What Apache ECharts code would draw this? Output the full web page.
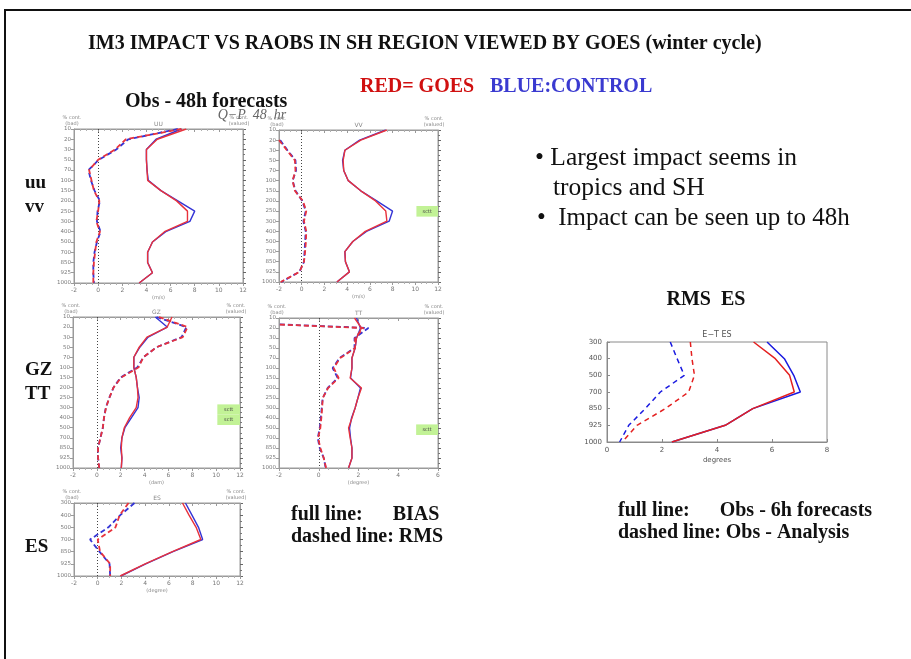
<!DOCTYPE html>
<html>
<head>
<meta charset="utf-8">
<script src="https://cdn.jsdelivr.net/npm/echarts@6/dist/echarts.min.js"></script>
<style>
html,body{margin:0;padding:0;background:#fff;}
#main{width:911px;height:659px;}
</style>
</head>
<body>
<div id="main"></div>
<script>
// ---------- tick labels / categories ----------
const levels = [10, 20, 30, 50, 70, 100, 150, 200, 250, 300, 400, 500, 700, 850, 925, 1000];
const esLevels = [300, 400, 500, 700, 850, 925, 1000];

// ---------- UU (Obs - 48h forecasts) ----------
const uuGoesSolid = [7.3, 4.9, 4.0, 4.0, 4.05, 4.1, 5.2, 6.5, 7.4, 7.4, 5.5, 4.5, 4.1, 4.1, 4.5, 3.4];
const uuCtrlSolid = [6.9, 4.8, 4.0, 4.0, 4.05, 4.15, 5.2, 6.6, 8.0, 7.6, 5.6, 4.5, 4.1, 4.1, 4.5, 3.4];
const uuGoesDash = [6.9, 2.3, 1.4, 0.0, -0.75, -0.55, -0.35, 0.1, 0.0, -0.15, 0.15, -0.15, -0.25, -0.35, -0.4, -0.4];
const uuCtrlDash = [6.6, 2.5, 1.5, 0.05, -0.8, -0.6, -0.3, 0.15, -0.05, -0.1, 0.2, -0.1, -0.3, -0.4, -0.4, -0.35];

// ---------- VV ----------
const vvGoesSolid = [7.5, 5.2, 3.8, 3.65, 3.7, 4.1, 5.2, 6.5, 7.4, 7.5, 5.6, 4.5, 3.8, 3.85, 4.2, 3.1];
const vvCtrlSolid = [7.4, 5.1, 3.8, 3.6, 3.7, 4.1, 5.2, 6.6, 8.0, 7.7, 5.7, 4.5, 3.8, 3.85, 4.2, 3.1];
const vvGoesDash = [null, -2.0, -1.3, -0.6, -0.55, -0.8, -0.6, 0.1, 0.4, 0.2, 0.4, 0.37, 0.3, 0.2, -0.2, -1.85];
const vvCtrlDash = [null, -1.9, -1.25, -0.55, -0.5, -0.8, -0.55, 0.05, 0.35, 0.15, 0.35, 0.3, 0.25, 0.2, -0.2, -1.8];

// ---------- GZ ----------
const gzGoesSolid = [6.3, 5.9, 4.2, 3.55, 3.1, 3.1, 3.3, 3.4, 3.45, 3.3, 2.75, 2.3, 2.1, 2.05, 2.1, 2.05];
const gzCtrlSolid = [4.9, 5.9, 4.3, 3.6, 3.1, 3.1, 3.3, 3.4, 3.55, 3.45, 2.9, 2.35, 2.1, 2.0, 2.1, 2.05];
const gzGoesDash = [5.2, 7.6, 7.2, 5.0, 3.9, 3.5, 2.05, 1.4, 1.05, 0.77, 0.6, 0.5, 0.3, 0.1, 0.1, 0.2];
const gzCtrlDash = [5.0, 7.5, 7.1, 5.0, 3.9, 3.4, 2.0, 1.4, 1.05, 0.75, 0.6, 0.5, 0.3, 0.1, 0.1, 0.2];

// ---------- TT ----------
const ttGoesSolid = [1.8, 2.15, 1.9, 1.83, 1.67, 1.67, 1.58, 2.15, 1.97, 1.83, 1.67, 1.5, 1.58, 1.67, 1.67, 1.5];
const ttCtrlSolid = [1.9, 2.1, 1.9, 1.83, 1.67, 1.67, 1.6, 2.1, 1.97, 1.83, 1.65, 1.55, 1.6, 1.67, 1.67, 1.5];
const ttGoesDash = [-10, 2.25, 1.83, 1.83, 1.08, 0.75, 1.0, 0.47, 0.2, 0.17, 0.13, 0.08, -0.03, 0.08, 0.25, 0.37];
const ttCtrlDash = [-10, 2.5, 1.8, 1.8, 1.05, 0.7, 0.95, 0.45, 0.2, 0.15, 0.1, 0.05, -0.05, 0.05, 0.25, 0.35];

// ---------- ES (small panel) ----------
const esGoesSolid = [7.15, 7.7, 8.3, 8.7, 6.3, 4.0, 1.9];
const esCtrlSolid = [7.4, 7.95, 8.5, 8.85, 6.35, 4.05, 1.95];
const esGoesDash = [2.6, 1.85, 1.5, 0.0, 0.2, 1.05, 1.05];
const esCtrlDash = [3.1, 1.9, 0.9, -0.65, 0.15, 1.0, 1.05];

// ---------- E-T ES (RMS ES, right chart) ----------
const etGoesSolid = [5.33, 6.12, 6.64, 6.81, 5.3, 4.3, 2.36];
const etCtrlSolid = [5.82, 6.45, 6.79, 7.03, 5.3, 4.3, 2.36];
const etGoesDash = [3.03, 3.09, 3.18, 2.97, 2.12, 1.09, 0.55];
const etCtrlDash = [2.3, 2.55, 2.81, 1.94, 1.39, 0.79, 0.46];

// ---------- layout / style ----------
const RED = '#e8323c';
const BLUE = '#3434d6';
const SERIF = '"Liberation Serif", "Times New Roman", serif';
const SANS = '"DejaVu Sans", "Liberation Sans", sans-serif';

const panels = [
  { name: 'UU', unit: '(m/s)', box: [74, 129, 169, 154], xr: [-2, 12], lv: levels,
    d: [uuCtrlSolid, uuGoesSolid, uuCtrlDash, uuGoesDash], green: [] },
  { name: 'VV', unit: '(m/s)', box: [279, 130, 159, 152], xr: [-2, 12], lv: levels,
    d: [vvCtrlSolid, vvGoesSolid, vvCtrlDash, vvGoesDash],
    green: [[[10.1, 7.5], [12, 8.55], 'sctt']] },
  { name: 'GZ', unit: '(dam)', box: [73, 317, 167, 151], xr: [-2, 12], lv: levels,
    d: [gzCtrlSolid, gzGoesSolid, gzCtrlDash, gzGoesDash],
    green: [[[10.1, 8.68], [12, 9.7], 'sctt'], [[10.1, 9.7], [12, 10.73], 'sctt']] },
  { name: 'TT', unit: '(degree)', box: [279, 318, 159, 150], xr: [-2, 6], lv: levels,
    d: [ttCtrlSolid, ttGoesSolid, ttCtrlDash, ttGoesDash],
    green: [[[4.9, 10.64], [6, 11.7], 'sctt']] },
  { name: 'ES', unit: '(degree)', box: [74, 503, 166, 73], xr: [-2, 12], lv: esLevels,
    d: [esCtrlSolid, esGoesSolid, esCtrlDash, esGoesDash], green: [] }
];

const grid = [], xAxis = [], yAxis = [], series = [], graphic = [];

function pairs(arr) {
  const out = [];
  arr.forEach((v, i) => { if (v !== null) out.push([v, i]); });
  return out;
}

panels.forEach((p, k) => {
  const [l, t, w, h] = p.box;
  grid.push({ left: l, top: t, width: w, height: h, show: true, borderColor: '#9a9a9a', borderWidth: 1, containLabel: false });
  const xi = xAxis.length;
  xAxis.push({
    gridIndex: k, type: 'value', position: 'bottom', min: p.xr[0], max: p.xr[1], interval: 2,
    axisLine: { show: true, onZero: false, lineStyle: { color: '#9a9a9a' } },
    axisTick: { show: true, length: 3, lineStyle: { color: '#9a9a9a' } },
    minorTick: { show: true, splitNumber: 4, length: 2, lineStyle: { color: '#b0b0b0' } },
    splitLine: { show: false },
    axisLabel: { fontSize: 6, color: '#777', margin: 4, fontFamily: SANS }
  });
  xAxis.push({
    gridIndex: k, type: 'value', position: 'top', min: p.xr[0], max: p.xr[1], interval: 2,
    axisLine: { show: true, onZero: false, lineStyle: { color: '#9a9a9a' } },
    axisTick: { show: true, inside: true, length: 3, lineStyle: { color: '#9a9a9a' } },
    minorTick: { show: true, splitNumber: 4, length: 2, lineStyle: { color: '#b0b0b0' } },
    splitLine: { show: false }, axisLabel: { show: false }
  });
  const yi = yAxis.length;
  const lv = p.lv;
  yAxis.push({
    gridIndex: k, type: 'value', position: 'left', inverse: true, min: 0, max: lv.length - 1, interval: 1,
    axisLine: { show: true, onZero: false, lineStyle: { color: '#9a9a9a' } },
    axisTick: { show: true, length: 3, lineStyle: { color: '#9a9a9a' } },
    splitLine: { show: false },
    axisLabel: { fontSize: 5.5, color: '#7a7a7a', margin: 3, fontFamily: SANS, formatter: v => lv[v] }
  });
  yAxis.push({
    gridIndex: k, type: 'value', position: 'right', inverse: true, min: 0, max: lv.length - 1, interval: 1,
    axisLine: { show: true, onZero: false, lineStyle: { color: '#9a9a9a' } },
    axisTick: { show: true, length: 3, lineStyle: { color: '#666' } },
    minorTick: { show: true, splitNumber: 2, length: 2, lineStyle: { color: '#777' } },
    splitLine: { show: false }, axisLabel: { show: false }
  });
  const styles = [
    { c: BLUE, t: 'solid' }, { c: RED, t: 'solid' },
    { c: BLUE, t: [5, 3] }, { c: RED, t: [5, 3] }
  ];
  p.d.forEach((arr, j) => {
    const s = {
      type: 'line', xAxisIndex: xi, yAxisIndex: yi, data: pairs(arr),
      showSymbol: false, symbol: 'none', silent: true, clip: true,
      lineStyle: { color: styles[j].c, width: j >= 2 ? 1.8 : 1.4, type: styles[j].t },
      z: 3 + j
    };
    if (j === 0) {
      s.markLine = {
        silent: true, symbol: 'none', label: { show: false },
        lineStyle: { type: [1, 2], color: '#444', width: 1 },
        data: [{ xAxis: 0 }]
      };
      if (p.green.length) {
        s.markArea = {
          silent: true,
          itemStyle: { color: '#c2f296' },
          label: { show: true, position: 'inside', fontSize: 5, color: '#444', fontFamily: SANS },
          data: p.green.map(g => [{ coord: g[0], name: g[2] }, { coord: g[1] }])
        };
      }
    }
    series.push(s);
  });
  // small header labels of each panel
  graphic.push({ type: 'text', style: { x: l + w / 2, y: t - 5, text: p.name, textAlign: 'center', align: 'center', textVerticalAlign: 'middle', verticalAlign: 'middle', font: '6px ' + SANS, fill: '#888' } });
  graphic.push({ type: 'text', style: { x: l - 2, y: t - 8, text: '% cont.\n(bad)', textAlign: 'center', align: 'center', textVerticalAlign: 'middle', verticalAlign: 'middle', font: '5px ' + SANS, fill: '#888', lineHeight: 6 } });
  graphic.push({ type: 'text', style: { x: l + w - 4, y: t - 8, text: '% cont.\n(valued)', textAlign: 'center', align: 'center', textVerticalAlign: 'middle', verticalAlign: 'middle', font: '5px ' + SANS, fill: '#888', lineHeight: 6 } });
  graphic.push({ type: 'text', style: { x: l + w / 2, y: t + h + 15, text: p.unit, textAlign: 'center', align: 'center', textVerticalAlign: 'middle', verticalAlign: 'middle', font: '5px ' + SANS, fill: '#888' } });
});

// ---------- right chart: E-T ES ----------
{
  const k = grid.length;
  grid.push({ left: 607, top: 342, width: 220, height: 100, show: true, borderColor: '#8a8a8a', borderWidth: 1 });
  const xi = xAxis.length;
  xAxis.push({
    gridIndex: k, type: 'value', position: 'bottom', min: 0, max: 8, interval: 2,
    name: 'degrees', nameLocation: 'middle', nameGap: 15,
    nameTextStyle: { fontSize: 7, color: '#555', fontFamily: SANS },
    axisLine: { show: true, onZero: false, lineStyle: { color: '#8a8a8a' } },
    axisTick: { show: true, inside: true, length: 3, lineStyle: { color: '#8a8a8a' } },
    splitLine: { show: false },
    axisLabel: { fontSize: 7, color: '#555', margin: 5, fontFamily: SANS }
  });
  const yi = yAxis.length;
  yAxis.push({
    gridIndex: k, type: 'value', position: 'left', inverse: true, min: 0, max: esLevels.length - 1, interval: 1,
    axisLine: { show: true, onZero: false, lineStyle: { color: '#8a8a8a' } },
    axisTick: { show: true, inside: true, length: 3, lineStyle: { color: '#8a8a8a' } },
    splitLine: { show: false },
    axisLabel: { fontSize: 7, color: '#555', margin: 5, fontFamily: SANS, formatter: v => esLevels[v] }
  });
  const sets = [
    [etCtrlSolid, '#1a1ae0', 'solid'], [etGoesSolid, '#e42020', 'solid'],
    [etCtrlDash, '#1a1ae0', [5, 4]], [etGoesDash, '#e42020', [5, 4]]
  ];
  sets.forEach((s, j) => series.push({
    type: 'line', xAxisIndex: xi, yAxisIndex: yi, data: pairs(s[0]),
    showSymbol: false, symbol: 'none', silent: true,
    lineStyle: { color: s[1], width: 1.5, type: s[2] }, z: 3 + j
  }));
  graphic.push({ type: 'text', style: { x: 607 + 110, y: 335, text: 'E\u2212T ES', textAlign: 'center', align: 'center', textVerticalAlign: 'middle', verticalAlign: 'middle', font: '8px ' + SANS, fill: '#555' } });
}

// ---------- slide texts ----------
function T(x, y, text, font, fill, align) {
  graphic.push({ type: 'text', style: { x: x, y: y, text: text, font: font, fill: fill || '#111', textAlign: align || 'left', align: align || 'left', textVerticalAlign: 'middle', verticalAlign: 'middle' } });
}
graphic.push({ type: 'polyline', shape: { points: [[5, 659], [5, 10], [911, 10]] }, style: { stroke: '#111', lineWidth: 2, fill: null } });
T(88, 44, 'IM3 IMPACT VS RAOBS IN SH REGION VIEWED BY GOES (winter cycle)', 'bold 20px ' + SERIF);
T(360, 87, 'RED= GOES', 'bold 20px ' + SERIF, '#d01010');
T(490, 87, 'BLUE:CONTROL', 'bold 20px ' + SERIF, '#3a3ad0');
T(125, 102, 'Obs - 48h forecasts', 'bold 20px ' + SERIF);
T(252, 115, 'Q\u2212P  48  hr', 'italic 14px ' + SERIF, '#666', 'center');
T(25, 183, 'uu', 'bold 19px ' + SERIF);
T(25, 207, 'vv', 'bold 19px ' + SERIF);
T(25, 370, 'GZ', 'bold 19px ' + SERIF);
T(25, 394, 'TT', 'bold 19px ' + SERIF);
T(25, 547, 'ES', 'bold 19px ' + SERIF);
T(535, 158, '\u2022 Largest impact seems in', '25.5px ' + SERIF);
T(553, 188, 'tropics and SH', '25.5px ' + SERIF);
T(537, 218, '\u2022  Impact can be seen up to 48h', '25px ' + SERIF);
T(706, 300, 'RMS  ES', 'bold 20px ' + SERIF, '#111', 'center');
T(291, 515, 'full line:      BIAS', 'bold 20px ' + SERIF);
T(291, 537, 'dashed line: RMS', 'bold 20px ' + SERIF);
T(618, 511, 'full line:      Obs - 6h forecasts', 'bold 20px ' + SERIF);
T(618, 533, 'dashed line: Obs - Analysis', 'bold 20px ' + SERIF);

const chart = echarts.init(document.getElementById('main'), null, { renderer: 'canvas' });
chart.setOption({
  animation: false,
  backgroundColor: '#fff',
  grid: grid, xAxis: xAxis, yAxis: yAxis, series: series, graphic: graphic
});
</script>
</body>
</html>
